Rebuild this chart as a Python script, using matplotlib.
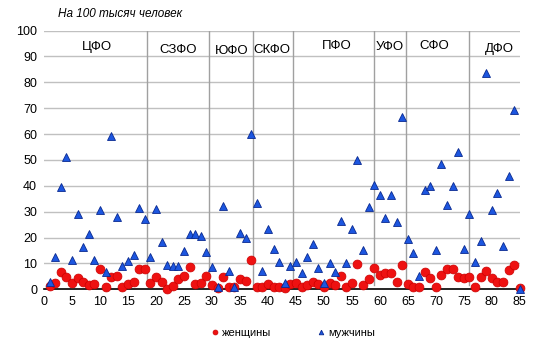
import matplotlib
matplotlib.use("Agg")
import matplotlib.pyplot as plt
import numpy as np

plt.rcParams['font.family'] = ['Liberation Sans', 'DejaVu Sans']

# region number (1..85)
regions = np.arange(1, 86)

# deaths per 100k, women
women = [1.3, 2.6, 6.7, 4.9, 2.6, 4.2, 2.9, 1.7, 2.0, 7.9,
         1.0, 4.9, 5.3, 1.0, 2.0, 2.8, 7.7, 7.7, 2.6, 4.9,
         2.9, 0.0, 1.3, 3.8, 5.3, 8.7, 2.0, 2.6, 5.3, 1.5,
         0.4, 4.9, 1.0, 0.8, 4.1, 3.3, 11.5, 0.8, 0.8, 2.0,
         1.0, 1.0, 0.4, 2.0, 2.6, 1.0, 1.5, 2.9, 2.0, 1.0,
         2.6, 1.5, 5.3, 1.0, 2.6, 9.7, 1.7, 4.1, 8.2, 5.5,
         6.2, 6.2, 2.7, 9.5, 2.0, 1.0, 1.0, 6.8, 4.4, 1.0,
         5.5, 7.7, 7.7, 4.6, 4.4, 4.6, 1.0, 4.6, 7.2, 4.4,
         2.8, 2.8, 7.4, 9.5, 0.4]

# deaths per 100k, men
men = [3.0, 12.3, 39.7, 51.0, 11.5, 29.2, 16.4, 21.5, 11.5, 30.8,
       6.8, 59.2, 28.0, 9.0, 10.9, 13.2, 31.5, 27.3, 12.6, 31.2,
       18.1, 9.5, 9.0, 9.2, 14.7, 21.3, 21.5, 20.5, 14.6, 8.7,
       1.0, 32.2, 7.2, 1.0, 21.8, 19.9, 60.0, 33.5, 7.2, 23.3,
       15.4, 10.6, 2.3, 9.0, 10.6, 6.4, 12.6, 17.4, 8.3, 2.3,
       10.0, 6.8, 26.4, 10.0, 23.3, 50.0, 15.1, 31.8, 40.4, 36.3,
       27.6, 36.3, 26.0, 66.4, 19.6, 14.2, 5.3, 38.5, 40.1, 15.1,
       48.5, 32.7, 40.1, 53.0, 15.6, 29.2, 10.4, 18.6, 83.5, 30.5,
       37.2, 16.8, 43.6, 69.2, 0.0]

# federal districts: label, label x, label y, and borders between them
districts = ['ЦФО', 'СЗФО', 'ЮФО', 'СКФО', 'ПФО', 'УФО', 'СФО', 'ДФО']
label_x = [9.4, 24.0, 33.5, 40.7, 52.3, 61.8, 69.8, 81.4]
label_y = [93.6, 92.4, 92.0, 92.3, 94.0, 93.7, 94.0, 92.7]
borders = [18.45, 29.4, 37.3, 44.5, 58.9, 64.6, 75.9]

fig = plt.figure(figsize=(5.37, 3.55), dpi=100)
ax = fig.add_axes([0.082, 0.185, 0.886, 0.729])

for y in range(10, 101, 10):
    ax.axhline(y, color='#c0c0c0', lw=1, zorder=0)
for b in borders:
    ax.plot([b, b], [1.5, 100], color='#a0a0a0', lw=1, zorder=1)

ax.plot(regions, women, 'o', ms=6.4, color='#ee1111', mec='#cc0000', mew=0.5,
        label='женщины', zorder=3, clip_on=False)
ax.plot(regions, men, '^', ms=6, color='#1c56e0', mec='#0a2a90', mew=0.6,
        label='мужчины', zorder=4, clip_on=False)

for name, lx, ly in zip(districts, label_x, label_y):
    ax.text(lx, ly, name, ha='center', va='center', fontsize=9.5, color='black')

ax.set_xlim(0, 85)
ax.set_ylim(0, 100)
ax.set_xticks(range(0, 86, 5))
ax.set_yticks(range(0, 101, 10))
ax.tick_params(length=0, labelsize=9, pad=5)
for s in ['left', 'right', 'top']:
    ax.spines[s].set_visible(False)
ax.spines['bottom'].set_color('black')
ax.spines['bottom'].set_linewidth(1.2)

fig.text(0.108, 0.96, 'На 100 тысяч человек', fontsize=8.5, style='italic',
         ha='left', va='center')

fig.legend(loc='center', bbox_to_anchor=(0.545, 0.062), ncol=2, frameon=False,
           fontsize=8, markerscale=0.55, handlelength=0.8, handletextpad=0.3,
           columnspacing=4)

fig.savefig('out.png', dpi=100)
